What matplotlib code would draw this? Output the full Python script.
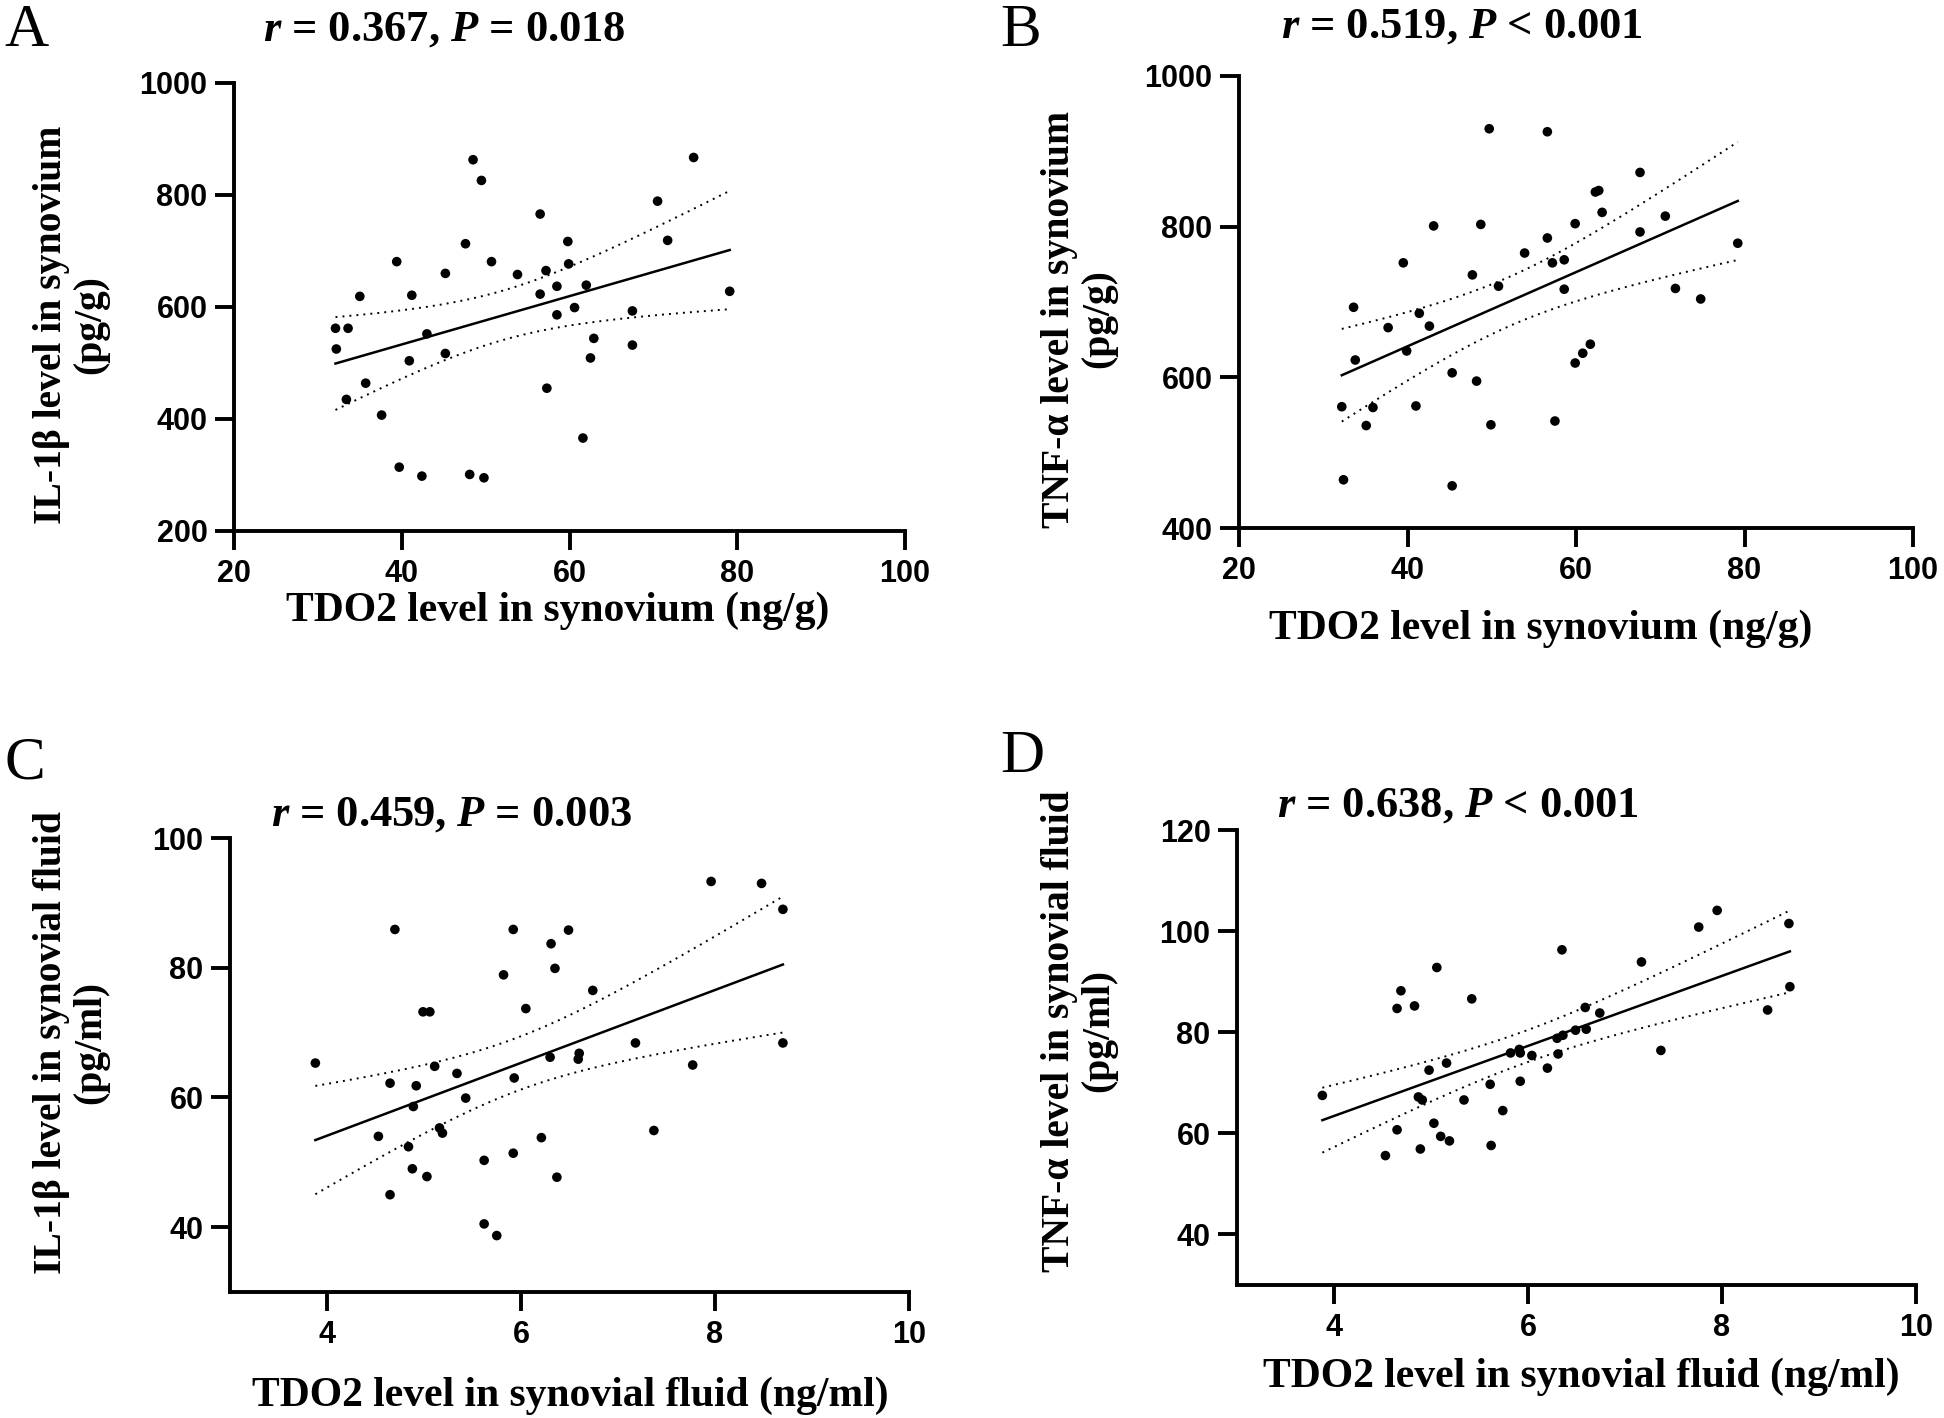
import numpy as np
import matplotlib
matplotlib.use("Agg")
import matplotlib.pyplot as plt

plt.rcParams['mathtext.fontset'] = 'custom'
plt.rcParams['mathtext.it'] = 'Liberation Serif:italic:bold'
plt.rcParams['mathtext.rm'] = 'Liberation Serif:bold'

# ---- data ----
# A: TDO2 in synovium vs IL-1b in synovium
a_x = [32.1, 33.6, 32.2, 35.0, 33.4, 35.7, 37.6, 39.4, 39.7, 41.2, 40.9, 43.0, 42.4, 45.2,
       45.2, 47.6, 48.5, 49.5, 50.7, 48.1, 49.8, 53.8, 56.5, 57.2, 56.5, 58.5, 58.5, 57.3,
       59.8, 59.9, 60.6, 62.0, 62.9, 62.5, 61.6, 67.5, 67.5, 70.5, 71.7, 74.8, 79.1]
a_y = [562, 562, 525, 619, 435, 464, 407, 681, 314, 621, 504, 552, 298, 660,
       517, 713, 863, 826, 681, 301, 295, 658, 766, 665, 623, 637, 586, 455,
       717, 677, 599, 639, 544, 509, 366, 593, 532, 789, 719, 867, 628]

# B: TDO2 in synovium vs TNF-a in synovium
b_x = [32.2, 32.4, 33.6, 33.8, 35.1, 35.9, 37.7, 39.5, 39.9, 41.0, 41.4, 42.6, 43.1, 45.3,
       45.3, 47.7, 48.2, 48.7, 49.7, 49.9, 50.8, 53.9, 56.6, 56.6, 57.2, 57.5, 58.6, 58.6,
       59.9, 59.9, 60.8, 61.7, 62.3, 62.7, 63.1, 67.6, 67.6, 70.6, 71.8, 74.8, 79.2]
b_y = [561, 464, 693, 623, 536, 560, 666, 752, 635, 562, 685, 668, 801, 606,
       456, 736, 595, 803, 930, 537, 721, 765, 785, 926, 752, 542, 756, 717,
       804, 619, 632, 644, 846, 848, 819, 872, 793, 814, 718, 704, 778]

# C: TDO2 in synovial fluid vs IL-1b in synovial fluid
c_x = [3.88, 4.53, 4.65, 4.65, 4.70, 4.84, 4.88, 4.89, 4.92, 4.99, 5.06, 5.03, 5.11, 5.16,
       5.19, 5.34, 5.43, 5.62, 5.62, 5.75, 5.82, 5.92, 5.93, 5.92, 6.05, 6.21, 6.30, 6.31,
       6.35, 6.37, 6.49, 6.59, 6.60, 6.74, 7.18, 7.37, 7.77, 7.96, 8.48, 8.70, 8.70]
c_y = [65.3, 54.0, 62.2, 45.0, 85.9, 52.4, 49.0, 58.6, 61.8, 73.2, 73.2, 47.8, 64.8, 55.3,
       54.5, 63.7, 59.9, 50.3, 40.5, 38.7, 78.9, 85.9, 63.0, 51.4, 73.7, 53.8, 66.2, 83.7,
       79.9, 47.7, 85.8, 65.9, 66.8, 76.5, 68.4, 54.9, 65.0, 93.3, 93.0, 89.0, 68.4]

# D: TDO2 in synovial fluid vs TNF-a in synovial fluid
d_x = [3.88, 4.53, 4.65, 4.65, 4.69, 4.83, 4.87, 4.91, 4.89, 4.98, 5.03, 5.06, 5.10, 5.16,
       5.19, 5.34, 5.42, 5.61, 5.62, 5.74, 5.82, 5.91, 5.92, 5.92, 6.04, 6.20, 6.30, 6.31,
       6.35, 6.36, 6.49, 6.60, 6.59, 6.74, 7.17, 7.37, 7.76, 7.95, 8.47, 8.69, 8.70]
d_y = [67.5, 55.6, 60.7, 84.7, 88.2, 85.2, 67.2, 66.6, 56.9, 72.5, 62.0, 92.8, 59.4, 73.9,
       58.5, 66.6, 86.6, 69.7, 57.6, 64.5, 75.9, 76.6, 75.9, 70.3, 75.4, 72.9, 78.8, 75.7,
       96.3, 79.4, 80.4, 80.6, 84.9, 83.8, 93.9, 76.4, 100.8, 104.1, 84.4, 101.5, 89.0]

letters = ['A', 'B', 'C', 'D']
stats = [r'$r$ = 0.367, $P$ = 0.018', r'$r$ = 0.519, $P$ < 0.001',
         r'$r$ = 0.459, $P$ = 0.003', r'$r$ = 0.638, $P$ < 0.001']
xlabels = ['TDO2 level in synovium (ng/g)', 'TDO2 level in synovium (ng/g)',
           'TDO2 level in synovial fluid (ng/ml)', 'TDO2 level in synovial fluid (ng/ml)']
ylabels = ['IL-1\u03b2 level in synovium\n(pg/g)', 'TNF-\u03b1 level in synovium\n(pg/g)',
           'IL-1\u03b2 level in synovial fluid\n(pg/ml)', 'TNF-\u03b1 level in synovial fluid\n(pg/ml)']
xlims = [(20, 100), (20, 100), (3, 10), (3, 10)]
xticks = [[20, 40, 60, 80, 100], [20, 40, 60, 80, 100], [4, 6, 8, 10], [4, 6, 8, 10]]
ylims = [(200, 1000), (400, 1000), (30, 100), (30, 120)]
yticks = [[200, 400, 600, 800, 1000], [400, 600, 800, 1000], [40, 60, 80, 100], [40, 60, 80, 100, 120]]

W, H = 1944, 1418
# axes boxes in pixels: left, right, top, bottom
boxes = [(234, 905, 83, 531), (1239, 1913, 76, 528), (230, 909, 838, 1292), (1237, 1916, 830, 1285)]
letter_pos = [(4, 4), (1000, 4), (4, 736), (1000, 729)]
stat_pos = [(263, 30), (1281, 27), (271, 815), (1277, 806)]
xlab_pos = [(558, 611), (1541, 629), (570, 1396), (1581, 1377)]
ylab_pos = [(71, 325), (1079, 319), (71, 1043), (1079, 1031)]

T_CRIT = 2.023  # t(0.975, df=39)

SANS = 'Liberation Sans'
SERIF = 'Liberation Serif'


def fit_and_draw(ax, x, y):
    x = np.asarray(x, float)
    y = np.asarray(y, float)
    n = len(x)
    slope, icpt = np.polyfit(x, y, 1)
    resid = y - (slope * x + icpt)
    s = np.sqrt(np.sum(resid ** 2) / (n - 2))
    sxx = np.sum((x - x.mean()) ** 2)
    xs = np.linspace(x.min(), x.max(), 200)
    ys = slope * xs + icpt
    half = T_CRIT * s * np.sqrt(1.0 / n + (xs - x.mean()) ** 2 / sxx)
    ax.plot(xs, ys, color='black', lw=1.8, zorder=3)
    ax.plot(xs, ys + half, color='black', lw=1.4, ls=(0, (1, 2.6)), zorder=3)
    ax.plot(xs, ys - half, color='black', lw=1.4, ls=(0, (1, 2.6)), zorder=3)


fig = plt.figure(figsize=(W / 100, H / 100), dpi=100)
datasets = [(a_x, a_y), (b_x, b_y), (c_x, c_y), (d_x, d_y)]

for i, (x, y) in enumerate(datasets):
    l, r, t, b = boxes[i]
    ax = fig.add_axes([l / W, 1 - b / H, (r - l) / W, (b - t) / H])
    ax.scatter(x, y, s=48, color='black', edgecolors='none', zorder=4, clip_on=False)
    fit_and_draw(ax, x, y)
    ax.set_xlim(*xlims[i])
    ax.set_ylim(*ylims[i])
    ax.set_xticks(xticks[i])
    ax.set_yticks(yticks[i])
    for side in ['top', 'right']:
        ax.spines[side].set_visible(False)
    for side in ['left', 'bottom']:
        ax.spines[side].set_linewidth(2.8)
    ax.tick_params(axis='both', direction='out', length=14, width=2.8)
    ax.tick_params(axis='x', pad=6)
    ax.tick_params(axis='y', pad=5)
    for lab in ax.get_xticklabels() + ax.get_yticklabels():
        lab.set_fontfamily(SANS)
        lab.set_fontweight('bold')
        lab.set_fontsize(22)

    fig.text(letter_pos[i][0] / W, 1 - letter_pos[i][1] / H, letters[i], family=SERIF,
             fontsize=44, ha='left', va='top')
    fig.text(stat_pos[i][0] / W, 1 - stat_pos[i][1] / H, stats[i], family=SERIF,
             fontweight='bold', fontsize=32, ha='left', va='center')
    fig.text(xlab_pos[i][0] / W, 1 - xlab_pos[i][1] / H, xlabels[i], family=SERIF,
             fontweight='bold', fontsize=30, ha='center', va='center')
    fig.text(ylab_pos[i][0] / W, 1 - ylab_pos[i][1] / H, ylabels[i], family=SERIF,
             fontweight='bold', fontsize=28.5, ha='center', va='center', rotation=90,
             multialignment='center', linespacing=1.1)

fig.savefig('out.png', dpi=100)
